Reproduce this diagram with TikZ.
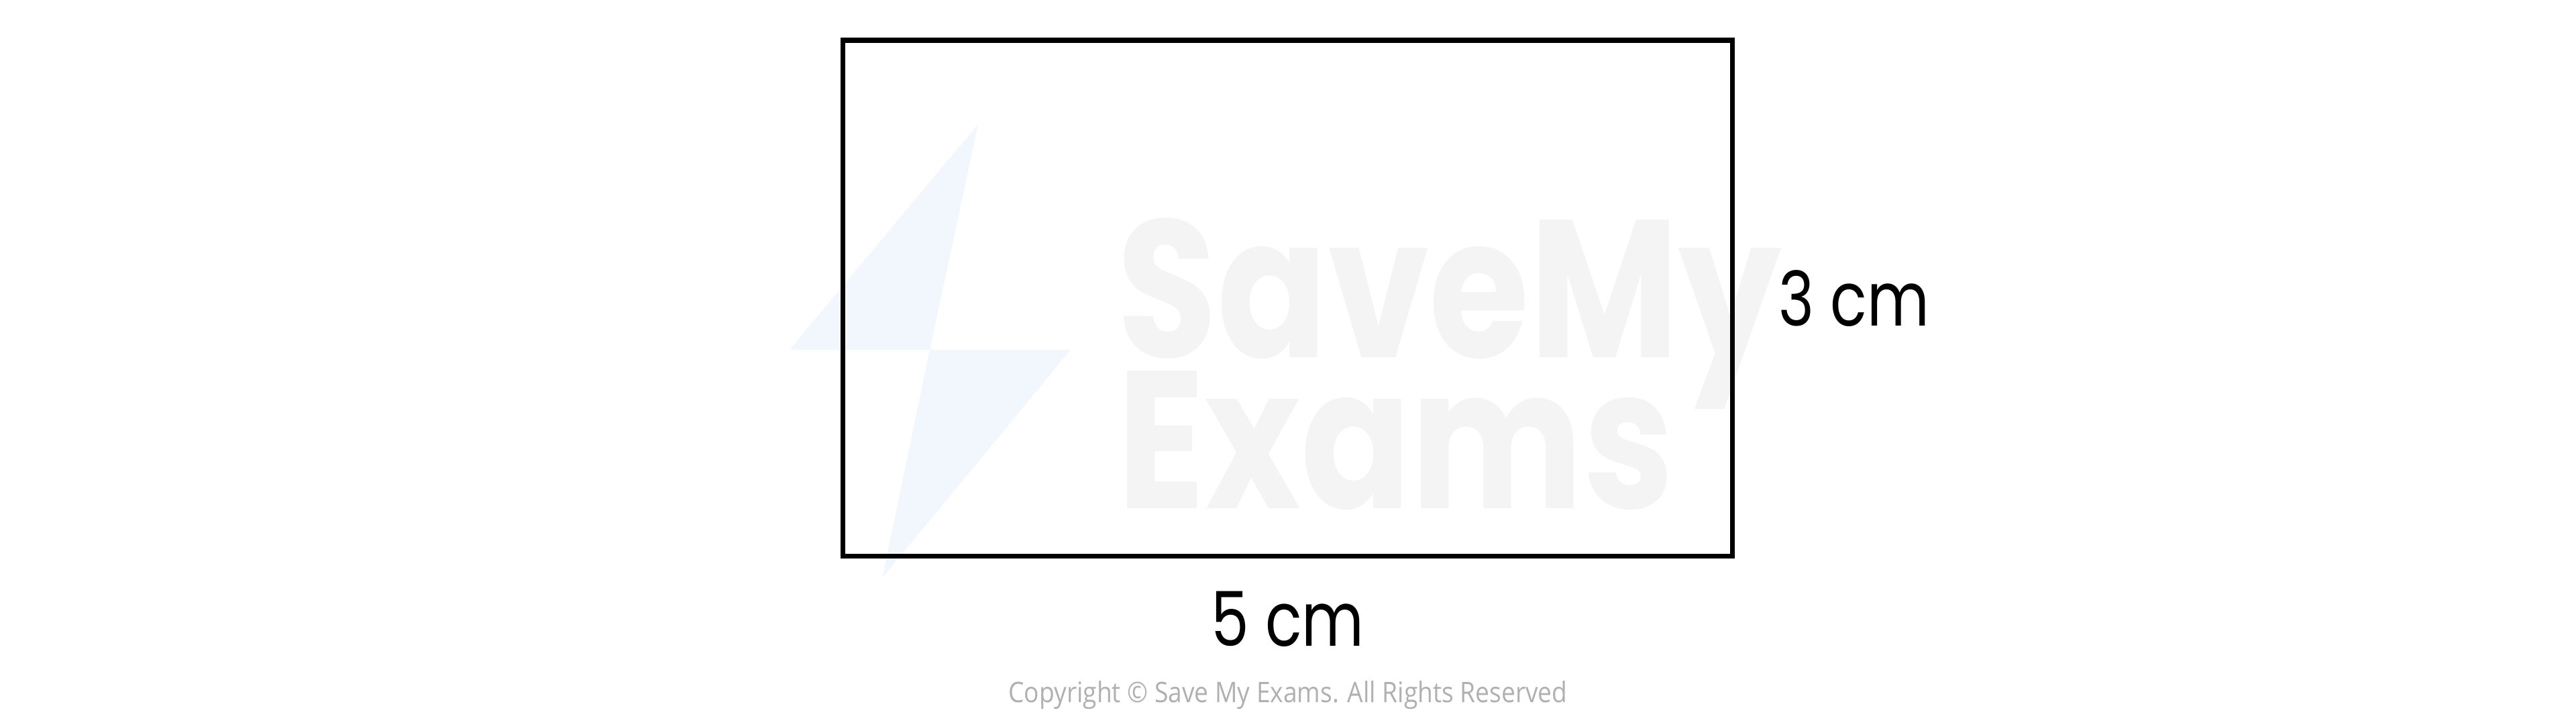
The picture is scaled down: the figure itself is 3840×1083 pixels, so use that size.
\documentclass[tikz,border=0pt]{standalone}
\usepackage{fontspec}
\setmainfont{Poppins}
\newfontfamily\copyfont{Open Sans}
\usetikzlibrary{positioning}
\definecolor{markgray}{HTML}{F4F4F4}
\definecolor{boltblue}{HTML}{F2F6FD}
\definecolor{copygray}{HTML}{B0B0B0}
\newcommand{\narrow}[2]{\scalebox{#1}[1]{#2}}
\begin{document}
\begin{tikzpicture}[x=0.01cm, y=-0.01cm,
    side/.style={font=\fontsize{32}{38}\selectfont, inner sep=0pt},
    wmark/.style={font=\fontsize{83}{90}\selectfont\bfseries, text=markgray, inner sep=0pt, anchor=base west}]
  \useasboundingbox (0,0) rectangle (3840,1083);
  % faint logo behind the figure
  \fill [boltblue] (1458,185) -- (1177,521) -- (1386,521) -- cycle;
  \fill [boltblue] (1386,521) -- (1596,521) -- (1315,861) -- cycle;
  \node [wmark] (save) at (1665,533) {\narrow{0.83}{SaveMy}};
  \node [wmark] (exams) at (1665,758) {\narrow{0.83}{Exams}};
  % the rectangle and its sides
  \node [draw, line width=2pt, minimum width=13.25cm, minimum height=7.685cm, inner sep=0pt] (rect) at (1919.5,444.5) {};
  \node [side, right=0.65cm of rect] (height) {\narrow{0.8}{3 cm}};
  \node [side, below=0.48cm of rect] (width) {\narrow{0.8}{5 cm}};
  \node [text=copygray, inner sep=0pt] (copy) at (1920,1036) {\copyfont\fontsize{12}{14}\selectfont\narrow{0.88}{Copyright © Save My Exams. All Rights Reserved}};
\end{tikzpicture}
\end{document}
